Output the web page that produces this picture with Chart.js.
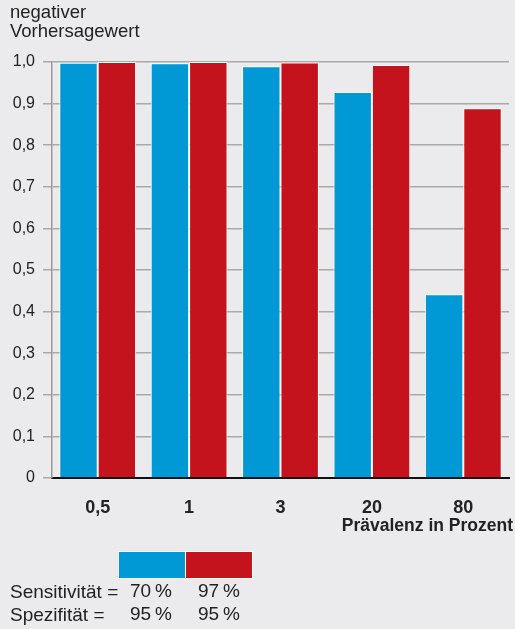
<!DOCTYPE html>
<html>
<head>
<meta charset="utf-8">
<script src="https://cdn.jsdelivr.net/npm/chart.js@4.4.0/dist/chart.umd.min.js"></script>
<style>
  body { margin: 0; background: #ebebed; font-family: "Liberation Sans", Arial, sans-serif; color: #222; }
  #wrap { position: relative; width: 515px; height: 629px; }
  #wrap canvas { position: absolute; left: 0; top: 0; }
  .txt { position: absolute; font-size: 19px; white-space: nowrap; line-height: 20px; }
  .sw { position: absolute; top: 551px; height: 26px; width: 66px; border: 1px solid #fff; }
</style>
</head>
<body>
<div id="wrap">
  <canvas id="chart" width="515" height="629"></canvas>
  <div class="txt" style="left:10px; top:2px; font-size:18.5px; line-height:19px;">negativer<br>Vorhersagewert</div>
  <div class="txt" style="right:2px; top:515px; font-weight:bold; font-size:17.5px;">Prävalenz in Prozent</div>
  <div class="sw" style="left:118px; background:#0099d6;"></div>
  <div class="sw" style="left:185px; background:#c4131c;"></div>
  <div class="txt" style="left:10px; top:582px;">Sensitivität =</div>
  <div class="txt" style="left:10px; top:605px;">Spezifität =</div>
  <div class="txt" id="s1" style="left:130px; top:581px;"></div>
  <div class="txt" id="s2" style="left:198px; top:581px;"></div>
  <div class="txt" id="p1" style="left:130px; top:604px;"></div>
  <div class="txt" id="p2" style="left:198px; top:604px;"></div>
</div>
<script>
// Prävalenz in Prozent
const categories = ['0,5', '1', '3', '20', '80'];
// negativer Vorhersagewert
const valuesLow = [0.998, 0.997, 0.990, 0.928, 0.442];
const valuesHigh = [1.0, 1.0, 0.999, 0.993, 0.889];
const sensitivity = ['70\u2009%', '97\u2009%'];
const specificity = ['95\u2009%', '95\u2009%'];
const yTicks = [0, 0.1, 0.2, 0.3, 0.4, 0.5, 0.6, 0.7, 0.8, 0.9, 1.0];

document.getElementById('s1').textContent = sensitivity[0];
document.getElementById('s2').textContent = sensitivity[1];
document.getElementById('p1').textContent = specificity[0];
document.getElementById('p2').textContent = specificity[1];

function fmt(v) {
  if (v === 0) return '0';
  return v.toFixed(1).replace('.', ',');
}

const chartElement = document.getElementById('chart');
const chart = new Chart(chartElement, {
  type: 'bar',
  data: {
    labels: categories,
    datasets: [
      {
        label: 'Sensitivität 70 %',
        data: valuesLow,
        backgroundColor: '#0099d6',
        borderColor: '#ffffff',
        borderWidth: 1,
        barPercentage: 1.0,
        categoryPercentage: 0.84
      },
      {
        label: 'Sensitivität 97 %',
        data: valuesHigh,
        backgroundColor: '#c4131c',
        borderColor: '#ffffff',
        borderWidth: 1,
        barPercentage: 1.0,
        categoryPercentage: 0.84
      }
    ]
  },
  options: {
    responsive: false,
    animation: false,
    layout: { padding: { top: 62, right: 6, left: 0, bottom: 0 } },
    plugins: { legend: { display: false }, tooltip: { enabled: false } },
    scales: {
      x: {
        grid: { display: false, drawTicks: false },
        border: { display: true, color: '#111', width: 2 },
        ticks: {
          padding: 19,
          color: '#222',
          font: { family: 'Liberation Sans', size: 18, weight: 'bold' }
        },
        afterFit: function(scale) { scale.height = 151; }
      },
      y: {
        min: 0,
        max: 1,
        afterBuildTicks: function(scale) { scale.ticks = yTicks.map(v => ({ value: v })); },
        grid: { color: '#a9a9a9', lineWidth: 1.5, tickLength: 9, drawTicks: true },
        border: { display: true, color: '#999', width: 1.5 },
        ticks: {
          padding: 8,
          color: '#222',
          callback: fmt,
          font: { family: 'Liberation Sans', size: 16 }
        },
        afterFit: function(scale) { scale.width = 52; }
      }
    }
  }
});
</script>
</body>
</html>
